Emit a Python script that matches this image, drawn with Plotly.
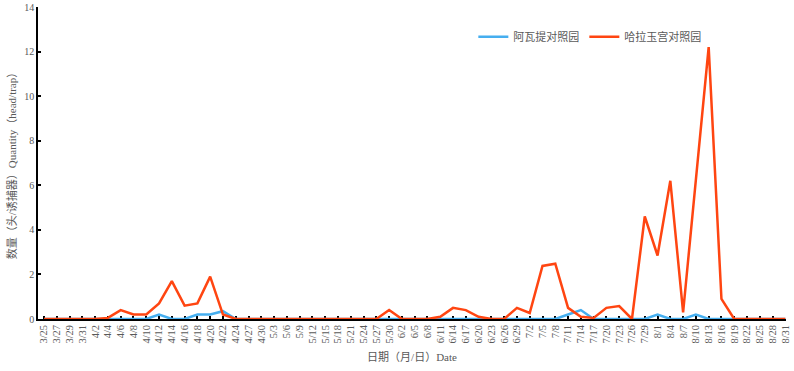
import plotly.graph_objects as go

dates = ["3/25","3/27","3/29","3/31","4/2","4/4","4/6","4/8","4/10","4/12","4/14","4/16","4/18","4/20","4/22","4/24",
         "4/27","4/30","5/3","5/6","5/9","5/12","5/15","5/18","5/21","5/24","5/27","5/30",
         "6/2","6/5","6/8","6/11","6/14","6/17","6/20","6/23","6/26","6/29",
         "7/2","7/5","7/8","7/11","7/14","7/17","7/20","7/23","7/26","7/29",
         "8/1","8/4","8/7","8/10","8/13","8/16","8/19","8/22","8/25","8/28","8/31"]

awati = [0,0,0,0,0,0,0,0,0,0.2,0,0,0.2,0.2,0.35,0,
         0,0,0,0,0,0,0,0,0,0,0,0,
         0,0,0,0,0,0,0,0,0,0,
         0,0,0,0.2,0.4,0,0,0,0,0,
         0.2,0,0,0.2,0,0,0,0,0,0,0]

halayugong = [0,0,0,0,0,0.05,0.4,0.2,0.2,0.7,1.7,0.6,0.7,1.9,0.2,0,
              0,0,0,0,0,0,0,0,0,0,0,0.4,
              0,0,0,0.1,0.5,0.4,0.1,0,0,0.5,
              0.27,2.38,2.48,0.5,0.1,0.05,0.5,0.58,0,4.6,
              2.85,6.2,0.3,6.25,12.2,0.9,0,0,0,0,0]

x = list(range(len(dates)))
serif = "Liberation Serif, Noto Sans CJK SC, serif"
gray = "#595959"

fig = go.Figure()
fig.add_trace(go.Scatter(x=x, y=awati, mode="lines", name="阿瓦提对照园",
                         line=dict(color="#45AEEF", width=2.5)))
fig.add_trace(go.Scatter(x=x, y=halayugong, mode="lines", name="哈拉玉宫对照园",
                         line=dict(color="#FF4511", width=2.5)))

fig.update_layout(
    width=794, height=371,
    margin=dict(l=38, r=8, t=7, b=52, autoexpand=False),
    paper_bgcolor="white", plot_bgcolor="white",
    font=dict(family=serif, color=gray, size=10),
    showlegend=True,
    legend=dict(orientation="h", x=0.582, y=0.905, xanchor="left", yanchor="middle",
                font=dict(family=serif, size=11, color=gray),
                bgcolor="rgba(0,0,0,0)"),
    xaxis=dict(
        range=[-0.47, 58.05], automargin=False,
        tickmode="array", tickvals=x, ticktext=dates, tickangle=-90,
        ticklabeloverflow="allow",
        ticks="inside", ticklen=3, tickwidth=1.5, tickcolor="black",
        showline=True, linecolor="black", linewidth=1.5,
        showgrid=False, zeroline=False, layer="below traces",
        tickfont=dict(family=serif, size=10.5, color=gray),
        title=dict(text="日期（月/日）Date", font=dict(family=serif, size=11, color=gray), standoff=11),
    ),
    yaxis=dict(
        range=[0, 14], automargin=False, tickmode="array", tickvals=[0,2,4,6,8,10,12,14],
        ticks="inside", ticklen=3, tickwidth=1.5, tickcolor="black",
        showline=True, linecolor="black", linewidth=1.5,
        showgrid=False, zeroline=False, layer="below traces",
        tickfont=dict(family=serif, size=10, color=gray),
        title=dict(text="数量（头/诱捕器）Quantity（head/trap）", font=dict(family=serif, size=11, color=gray), standoff=5),
    ),
)

fig.write_html("out.html", config={"displayModeBar": False},
               post_script="document.body.style.margin='0';")
